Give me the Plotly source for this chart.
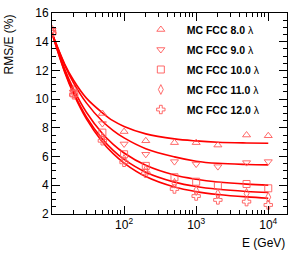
import plotly.graph_objects as go

energies = [10, 20, 50, 100, 200, 500, 1000, 2000, 5000, 10000]
labels = ["MC FCC 8.0", "MC FCC 9.0", "MC FCC 10.0", "MC FCC 11.0", "MC FCC 12.0"]
res_8 = [14.9, 10.7, 9.0, 7.74, 7.1, 6.97, 6.97, 6.8, 7.5, 7.45]
res_9 = [14.8, 10.5, 8.3, 6.88, 6.16, 5.65, 5.48, 5.3, 5.58, 5.65]
res_10 = [14.7, 10.4, 7.67, 6.16, 5.35, 4.56, 4.25, 3.97, 4.09, 3.79]
res_11 = [14.7, 10.4, 7.3, 5.81, 5.07, 4.14, 3.63, 3.4, 3.44, 3.17]
res_12 = [14.6, 10.3, 7.1, 5.6, 4.84, 3.74, 3.25, 2.98, 2.86, 2.63]

fit_e = [10, 15, 20, 30, 50, 70, 100, 200, 500, 1000, 2000, 5000, 10000]
fit_8 = [14.6, 12.45, 11.3, 10.07, 9.05, 8.5, 8.1, 7.58, 7.23, 7.09, 7.0, 6.95, 6.93]
fit_9 = [14.6, 12.37, 11.12, 9.74, 8.46, 7.83, 7.3, 6.55, 5.98, 5.68, 5.53, 5.45, 5.42]
fit_10 = [14.6, 12.1, 10.68, 9.09, 7.61, 6.87, 6.25, 5.39, 4.71, 4.42, 4.23, 4.08, 4.01]
fit_11 = [14.6, 11.94, 10.44, 8.77, 7.22, 6.45, 5.8, 4.91, 4.22, 3.91, 3.72, 3.57, 3.5]
fit_12 = [14.6, 11.88, 10.35, 8.63, 7.02, 6.22, 5.55, 4.61, 3.88, 3.56, 3.36, 3.19, 3.1]

points = [res_8, res_9, res_10, res_11, res_12]
fits = [fit_8, fit_9, fit_10, fit_11, fit_12]
symbols = ["triangle-up-open", "triangle-down-open", "square-open", "diamond-tall-open", "cross-open"]
sizes = [7, 7, 7, 7, 7]

fig = go.Figure()
for f in fits:
    fig.add_trace(go.Scatter(x=fit_e, y=f, mode="lines", line=dict(color="#ff0000", width=1.6, shape="spline"),
                             showlegend=False, hoverinfo="skip"))
for i, (lab, p, s, sz) in enumerate(zip(labels, points, symbols, sizes)):
    fig.add_trace(go.Scatter(x=energies, y=p, mode="markers", name="\u00a0\u00a0<b>" + lab + "</b> λ",
                             legendgroup="g%d" % i,
                             marker=dict(symbol=s, size=sz, color="rgba(255,90,90,0.9)",
                                         line=dict(color="rgba(255,90,90,0.9)", width=1))))

axis_common = dict(showline=True, linecolor="black", linewidth=1, mirror="ticks", ticks="inside",
                   tickcolor="black", showgrid=False, zeroline=False,
                   tickfont=dict(family="Liberation Sans, Arial", size=12, color="black"))
fig.update_xaxes(type="log", range=[1.0, 4.26], tickvals=[100, 1000, 10000],
                 ticktext=["10<sup>2</sup>", "10<sup>3</sup>", "10<sup>4</sup>"], ticklen=8,
                 minor=dict(ticks="inside", ticklen=4, tickcolor="black",
                            tickvals=[20, 30, 40, 50, 60, 70, 80, 90, 200, 300, 400, 500, 600, 700, 800, 900,
                                      2000, 3000, 4000, 5000, 6000, 7000, 8000, 9000]),
                 **axis_common)
fig.update_yaxes(range=[2, 16], tickvals=[2, 4, 6, 8, 10, 12, 14, 16], ticklen=8,
                 minor=dict(ticks="inside", ticklen=4, tickcolor="black", dtick=0.5),
                 **axis_common)

fig.add_annotation(text="E (GeV)", xref="paper", yref="paper", x=1.0, y=-0.10, xanchor="right", yanchor="top",
                   showarrow=False, font=dict(family="Liberation Sans, Arial", size=12, color="black"))
fig.add_annotation(text="RMS/E (%)", xref="paper", yref="paper", x=-0.185, y=1.0, xanchor="center", yanchor="top",
                   textangle=-90, showarrow=False, font=dict(family="Liberation Sans, Arial", size=12, color="black"))

fig.update_layout(width=293, height=255, margin=dict(l=52, r=6, t=13, b=41),
                  paper_bgcolor="white", plot_bgcolor="white",
                  legend=dict(x=0.378, y=0.99, xanchor="left", yanchor="top", bgcolor="rgba(0,0,0,0)",
                              font=dict(family="Liberation Sans, Arial", size=10.5, color="black"),
                              itemwidth=30, tracegroupgap=1, traceorder="grouped"))
fig.write_html("out.html", config={"displayModeBar": False},
               post_script="document.body.style.margin='0';document.body.style.overflow='hidden';")
